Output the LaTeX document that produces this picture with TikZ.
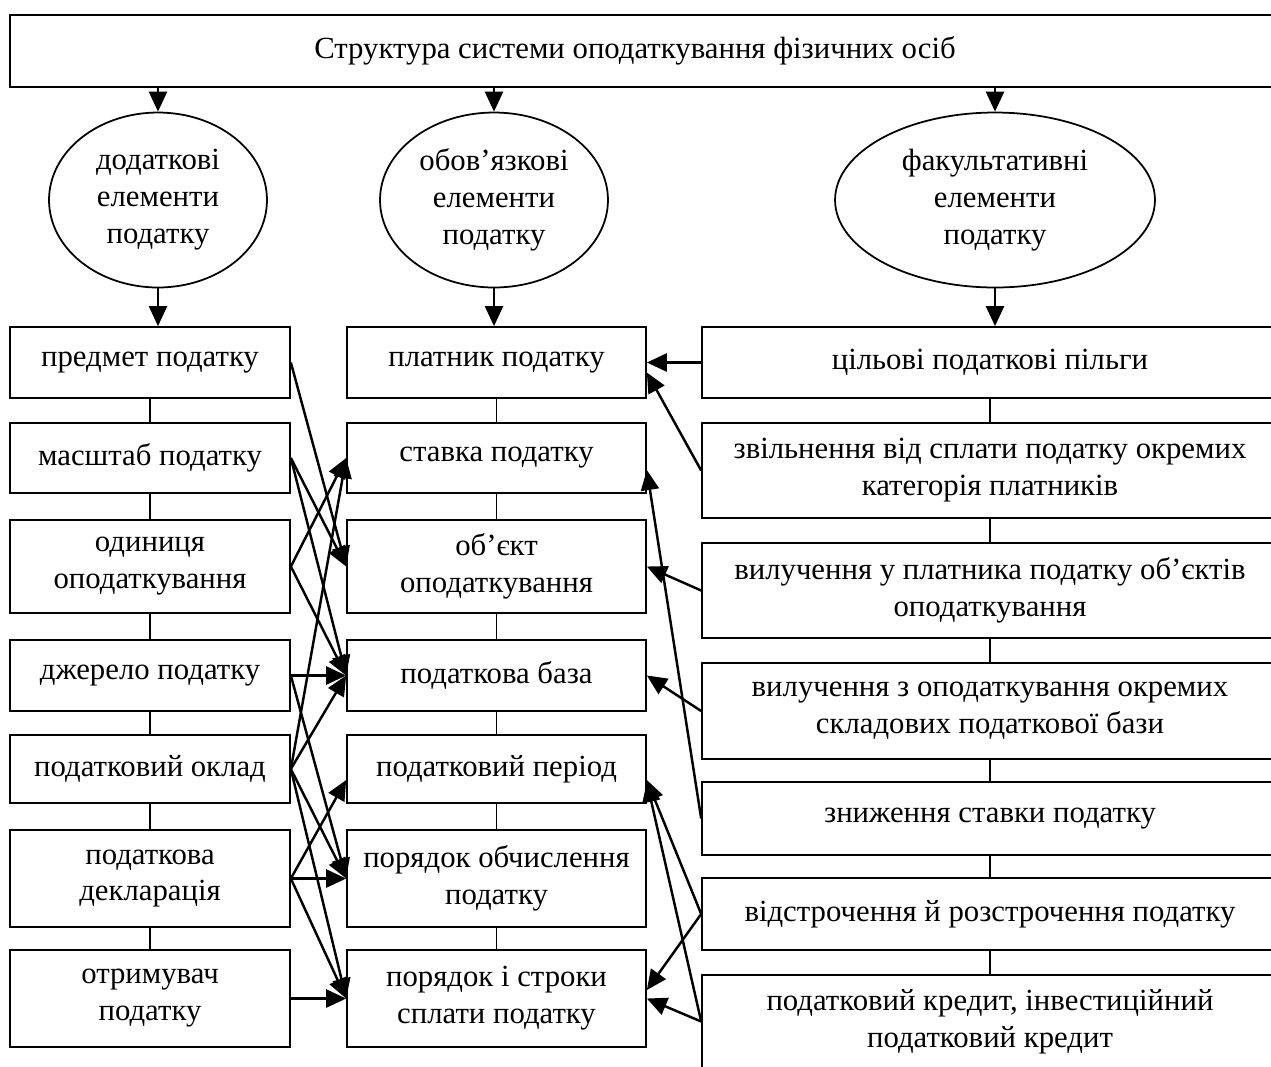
\documentclass[tikz,border=0pt]{standalone}
\usepackage{fontspec}
\setmainfont{Liberation Serif}
\usetikzlibrary{shapes.geometric,arrows.meta}

\begin{document}
\begin{tikzpicture}[x=0.02cm,y=-0.02cm,
  every node/.style={font=\fontsize{17.5}{21}\selectfont},
  box/.style={draw,line width=1pt,align=center,inner sep=0pt},
  lbox/.style={box,minimum width=5.6cm},
  mbox/.style={box,minimum width=5.98cm},
  rbox/.style={box,minimum width=11.52cm},
  oval/.style={draw,ellipse,line width=1pt,align=center,inner sep=0pt,minimum height=3.5cm},
  arr/.style={-{Triangle[length=4mm,width=3.6mm]},line width=1.4pt},
  link/.style={line width=1pt}]
 \clip (0,0) rectangle (1271,1066);

 \node[box,minimum width=25.6cm,minimum height=1.44cm] (title) at (650,51) {\hspace*{-0.6cm}Структура системи оподаткування фізичних осіб};

 \node[oval,minimum width=4.36cm] (dod) at (158,200) {додаткові\\елементи\\податку};
 \node[oval,minimum width=4.56cm] (oboh) at (494,200) {обов’язкові\\елементи\\податку};
 \node[oval,minimum width=6.4cm] (fak) at (995,200) {факультативні\\елементи\\податку};

 \node[lbox,minimum height=1.42cm] (predmet) at (150,362.5) {предмет податку};
 \node[lbox,minimum height=1.4cm] (masshtab) at (150,458) {масштаб податку};
 \node[lbox,minimum height=1.86cm] (odynytsia) at (150,566.5) {одиниця\\оподаткування};
 \node[lbox,minimum height=1.42cm] (dzherelo) at (150,675.5) {джерело податку};
 \node[lbox,minimum height=1.36cm] (oklad) at (150,769) {податковий оклад};
 \node[lbox,minimum height=1.94cm] (deklar) at (150,878.5) {податкова\\декларація};
 \node[lbox,minimum height=1.94cm] (otrym) at (150,998.5) {отримувач\\податку};

 \node[mbox,minimum height=1.42cm] (platnyk) at (496.5,362.5) {платник податку};
 \node[mbox,minimum height=1.4cm] (stavka) at (496.5,458) {ставка податку};
 \node[mbox,minimum height=1.86cm] (obiekt) at (496.5,566.5) {об’єкт\\оподаткування};
 \node[mbox,minimum height=1.42cm] (baza) at (496.5,675.5) {податкова база};
 \node[mbox,minimum height=1.36cm] (period) at (496.5,769) {податковий період};
 \node[mbox,minimum height=1.94cm] (obchysl) at (496.5,878.5) {порядок обчислення\\податку};
 \node[mbox,minimum height=1.94cm] (splata) at (496.5,998.5) {порядок і строки\\сплати податку};

 \node[rbox,minimum height=1.42cm] (pilhy) at (990,362.5) {цільові податкові пільги};
 \node[rbox,minimum height=1.9cm] (zvilnennia) at (990,470.5) {звільнення від сплати податку окремих\\категорія платників};
 \node[rbox,minimum height=1.9cm] (vyluch) at (990,590.5) {вилучення у платника податку об’єктів\\оподаткування};
 \node[rbox,minimum height=1.92cm] (vylbaza) at (990,711) {вилучення з оподаткування окремих\\складових податкової бази};
 \node[rbox,minimum height=1.46cm] (znyzh) at (990,818.5) {зниження ставки податку};
 \node[rbox,minimum height=1.44cm] (vidstr) at (990,914) {відстрочення й розстрочення податку};
 \node[rbox,minimum height=1.86cm] (kredyt) at (990,1021.5) {податковий кредит, інвестиційний\\податковий кредит};

 \foreach \e/\b in {dod/predmet,oboh/platnyk,fak/pilhy} {
   \draw[arr] (title.south -| \e.north) -- (\e.north);
   \draw[arr] (\e.south) -- (\e.south |- \b.north);
 }

 \foreach \a/\b in {predmet/masshtab,masshtab/odynytsia,odynytsia/dzherelo,dzherelo/oklad,oklad/deklar,deklar/otrym,
   platnyk/stavka,stavka/obiekt,obiekt/baza,baza/period,period/obchysl,obchysl/splata,
   pilhy/zvilnennia,zvilnennia/vyluch,vyluch/vylbaza,vylbaza/znyzh,znyzh/vidstr,vidstr/kredyt}
   \draw[link] (\a.south) -- (\b.north);

 \foreach \a/\b in {predmet/obiekt,masshtab/obiekt,masshtab/baza,odynytsia/stavka,odynytsia/baza,dzherelo/baza,dzherelo/obchysl,
   oklad/stavka,oklad/baza,oklad/obchysl,oklad/splata,deklar/obchysl,deklar/splata,otrym/splata}
   \draw[arr] (\a.east) -- (\b.west);
 \draw[arr] (deklar.east) -- ([yshift=-0.22cm]period.west);

 \foreach \a/\b in {pilhy/platnyk,vyluch/obiekt,vylbaza/baza,kredyt/splata}
   \draw[arr] (\a.west) -- (\b.east);
 \draw[arr] (zvilnennia.west) -- ([yshift=-0.2cm]platnyk.east);
 \draw[arr] (znyzh.west) -- ([yshift=-0.24cm]stavka.east);
 \draw[arr] (vidstr.west) -- ([yshift=-0.22cm]period.east);
 \draw[arr] (kredyt.west) -- ([yshift=-0.26cm]period.east);
 \draw[arr] (vidstr.west) -- ([yshift=0.17cm]splata.east);
\end{tikzpicture}
\end{document}
